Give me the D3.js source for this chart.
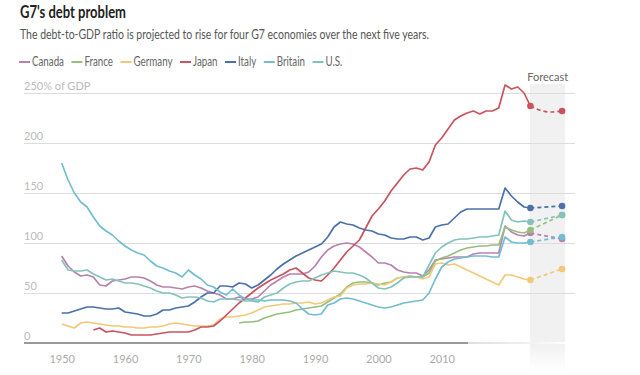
<!DOCTYPE html>
<html lang="en">
<head>
<meta charset="UTF-8">
<title>G7's debt problem</title>
<script src="https://d3js.org/d3.v7.min.js"></script>
<style>
  body { margin: 0; background: #fff; font-family: Lato, "Open Sans", sans-serif; }
</style>
</head>
<body>
<div id="chart"></div>
<script>
// ---- data (debt as % of GDP) ----
const years = d3.range(1950, 2025);
const countries = ["Canada", "France", "Germany", "Japan", "Italy", "Britain", "U.S."];
const colors = ["#b882ae", "#97bf7b", "#f2c978", "#c9535f", "#4a71a8", "#72bdd3", "#84c3bc"];
const startYears = [1950, 1978, 1950, 1955, 1950, 1950, 1950];

const canada = [87, 77, 71, 67, 68, 66, 58, 57, 62, 63,
  64, 66, 66, 65, 62, 58, 56, 56, 55, 54,
  56, 57, 55, 52, 50, 48, 44, 44, 46, 44,
  44, 46, 52, 58, 62, 66, 69, 69, 69, 71,
  77, 86, 93, 97, 99, 100, 99, 96, 91, 86,
  80, 80, 78, 73, 71, 70, 70, 67, 73, 83,
  84, 85, 86, 86, 86, 89, 90, 90, 90, 90,
  117, 111, 108, 107, 110];
const france = [20, 21,
  21, 22, 25, 27, 29, 30, 31, 33, 34, 35,
  36, 37, 41, 45, 49, 56, 60, 61, 61, 60,
  58, 60, 61, 65, 66, 67, 66, 66, 70, 82,
  85, 87, 90, 93, 95, 96, 97, 97, 98, 98,
  116, 113, 111, 110, 113];
const germany = [19, 17, 15, 20, 21, 20, 19, 18, 17, 17,
  16, 16, 15, 15, 16, 16, 17, 19, 20, 19,
  18, 17, 17, 17, 18, 24, 26, 26, 27, 28,
  30, 33, 36, 37, 38, 39, 39, 40, 40, 41,
  39, 40, 43, 46, 47, 55, 58, 59, 59, 60,
  59, 58, 61, 65, 66, 66, 66, 64, 66, 79,
  80, 78, 79, 76, 73, 70, 67, 64, 61, 58,
  68, 68, 66, 64, 63];
const japan = [13, 15, 11, 12, 11,
  10, 8, 8, 8, 8, 9, 10, 11, 11, 11,
  11, 13, 16, 16, 17, 22, 28, 34, 40, 45,
  50, 55, 59, 63, 66, 69, 73, 75, 70, 65,
  63, 62, 68, 75, 83, 91, 97, 103, 115, 127,
  134, 142, 152, 160, 168, 174, 175, 173, 181, 198,
  205, 214, 223, 227, 230, 232, 229, 232, 232, 235,
  258, 254, 256, 250, 237];
const italy = [30, 30, 32, 34, 36, 36, 35, 34, 34, 35,
  31, 30, 29, 27, 27, 29, 33, 33, 35, 36,
  37, 41, 46, 50, 50, 57, 57, 56, 60, 59,
  55, 58, 63, 68, 74, 79, 83, 87, 90, 93,
  96, 99, 106, 116, 121, 119, 118, 115, 113, 112,
  109, 108, 105, 104, 104, 106, 106, 103, 105, 116,
  118, 119, 125, 131, 134, 134, 134, 134, 134, 134,
  155, 147, 141, 136, 135];
const britain = [180, 163, 150, 141, 136, 126, 117, 112, 108, 102,
  97, 93, 90, 88, 82, 77, 75, 72, 70, 66,
  73, 68, 64, 58, 56, 51, 48, 54, 48, 44,
  43, 43, 42, 43, 43, 43, 42, 40, 34, 29,
  28, 29, 38, 40, 44, 45, 44, 42, 40, 38,
  36, 35, 36, 38, 40, 41, 42, 43, 50, 64,
  76, 81, 84, 85, 86, 87, 87, 87, 86, 86,
  106, 101, 100, 100, 101];
const us = [83, 73, 72, 72, 73, 69, 66, 63, 64, 62,
  60, 60, 59, 57, 55, 52, 50, 50, 48, 45,
  46, 46, 45, 42, 41, 44, 44, 44, 43, 42,
  42, 41, 46, 48, 50, 55, 59, 61, 62, 62,
  65, 68, 70, 72, 71, 70, 70, 68, 65, 60,
  55, 54, 56, 60, 65, 66, 66, 66, 78, 90,
  96, 100, 103, 104, 104, 105, 106, 106, 107, 108,
  132, 123, 121, 122, 121];

// forecasts as [year, value]
const forecastCanada = [[2024, 110], [2029, 104]];
const forecastFrance = [[2024, 113], [2029, 128]];
const forecastGermany = [[2024, 63], [2029, 74]];
const forecastJapan = [[2024, 237], [2025, 234], [2026, 232], [2027, 231], [2029, 232]];
const forecastItaly = [[2024, 135], [2029, 137]];
const forecastBritain = [[2024, 101], [2029, 106]];
const forecastUS = [[2024, 121], [2029, 128]];

const yTicks = [0, 50, 100, 150, 200, 250];
const xTicks = [1950, 1960, 1970, 1980, 1990, 2000, 2010];

const history = [canada, france, germany, japan, italy, britain, us];
const forecasts = [forecastCanada, forecastFrance, forecastGermany, forecastJapan,
  forecastItaly, forecastBritain, forecastUS];

// ---- layout ----
const W = 640, H = 375;
const svg = d3.select("#chart").append("svg")
  .attr("width", W).attr("height", H);

const x = d3.scaleLinear().domain([1950, 2030]).range([61.7, 568.4]);
const y = d3.scaleLinear().domain([0, 250]).range([343, 93]);
const gridLeft = 24, gridRight = 575;

function squeeze(sel, width) {
  sel.attr("textLength", width).attr("lengthAdjust", "spacingAndGlyphs");
}

// title + subtitle
svg.append("text").attr("x", 20).attr("y", 18)
  .attr("font-size", 16.5).attr("font-weight", "bold").attr("fill", "#222")
  .text("G7's debt problem").call(squeeze, 106);
svg.append("text").attr("x", 20).attr("y", 38.5)
  .attr("font-size", 13.5).attr("fill", "#555")
  .text("The debt-to-GDP ratio is projected to rise for four G7 economies over the next five years.")
  .call(squeeze, 409);

// legend
let lx = 19;
countries.forEach((c, i) => {
  svg.append("line").attr("x1", lx).attr("x2", lx + 11)
    .attr("y1", 62).attr("y2", 62)
    .attr("stroke", colors[i]).attr("stroke-width", 2);
  const t = svg.append("text").attr("x", lx + 13).attr("y", 66)
    .attr("font-size", 12.5).attr("fill", "#666").text(c);
  const w = t.node().getComputedTextLength() * 0.78;
  t.call(squeeze, w);
  lx += 13 + w + 7.5;
});

// forecast band
const defs = svg.append("defs");
const bandGrad = defs.append("linearGradient").attr("id", "bandFade")
  .attr("x1", 0).attr("x2", 0).attr("y1", 0).attr("y2", 1);
bandGrad.append("stop").attr("offset", "0.9").attr("stop-color", "#f1f1f1");
bandGrad.append("stop").attr("offset", "1").attr("stop-color", "#fff");
svg.append("rect")
  .attr("x", x(2024) - 0.5).attr("y", 84)
  .attr("width", x(2029) - x(2024) + 3.5).attr("height", 288)
  .attr("fill", "url(#bandFade)");
svg.append("text").attr("x", (x(2024) + x(2029) + 3) / 2).attr("y", 81)
  .attr("text-anchor", "middle").attr("font-size", 11).attr("fill", "#666")
  .text("Forecast");

// y grid + labels
const yAxis = svg.append("g")
  .attr("transform", `translate(${gridLeft},0)`)
  .call(d3.axisRight(y).tickValues(yTicks).tickSize(gridRight - gridLeft)
    .tickFormat(d => d === 250 ? "250% of GDP" : d));
yAxis.select(".domain").remove();
yAxis.selectAll(".tick line").attr("stroke", "#dcdcdc").attr("stroke-width", 1.2);
yAxis.selectAll(".tick text")
  .attr("x", 0).attr("dy", -4).attr("text-anchor", "start")
  .attr("font-family", "Lato, sans-serif").attr("font-size", 11).attr("fill", "#bbb");
yAxis.selectAll(".tick").filter(d => d === 0).select("line").attr("stroke", "none");

// x axis
const xAxis = svg.append("g")
  .attr("transform", `translate(0,${y(0)})`)
  .call(d3.axisBottom(x).tickValues(xTicks).tickSize(0).tickPadding(12)
    .tickFormat(d3.format("d")));
xAxis.select(".domain").remove();
xAxis.selectAll(".tick text")
  .attr("font-family", "Lato, sans-serif").attr("font-size", 11).attr("fill", "#aaa");
const axGrad = defs.append("linearGradient").attr("id", "axisFade");
axGrad.append("stop").attr("offset", "0").attr("stop-color", "#ddd");
axGrad.append("stop").attr("offset", "1").attr("stop-color", "#fff");
svg.append("line").attr("x1", gridLeft).attr("x2", 468)
  .attr("y1", y(0)).attr("y2", y(0)).attr("stroke", "#999").attr("stroke-width", 2);
svg.append("rect").attr("x", 468).attr("y", y(0) - 1).attr("width", 100).attr("height", 2)
  .attr("fill", "url(#axisFade)");

// lines
const line = d3.line()
  .defined(d => d[1] != null)
  .x(d => x(d[0])).y(d => y(d[1]));

history.forEach((vals, i) => {
  const pts = vals.map((v, k) => [startYears[i] + k, v]);
  svg.append("path").datum(pts)
    .attr("fill", "none").attr("stroke", colors[i]).attr("stroke-width", 1.7)
    .attr("stroke-linejoin", "round").attr("d", line);
});

const fLine = d3.line().curve(d3.curveMonotoneX)
  .x(d => x(d[0])).y(d => y(d[1]));
forecasts.forEach((pts, i) => {
  svg.append("path").datum(pts)
    .attr("fill", "none").attr("stroke", colors[i]).attr("stroke-width", 1.7)
    .attr("stroke-dasharray", "4,3").attr("d", fLine);
});
forecasts.forEach((pts, i) => {
  svg.selectAll(null).data([pts[0], pts[pts.length - 1]]).enter().append("circle")
    .attr("cx", d => x(d[0])).attr("cy", d => y(d[1])).attr("r", 3.3)
    .attr("fill", colors[i]);
});
</script>
</body>
</html>
